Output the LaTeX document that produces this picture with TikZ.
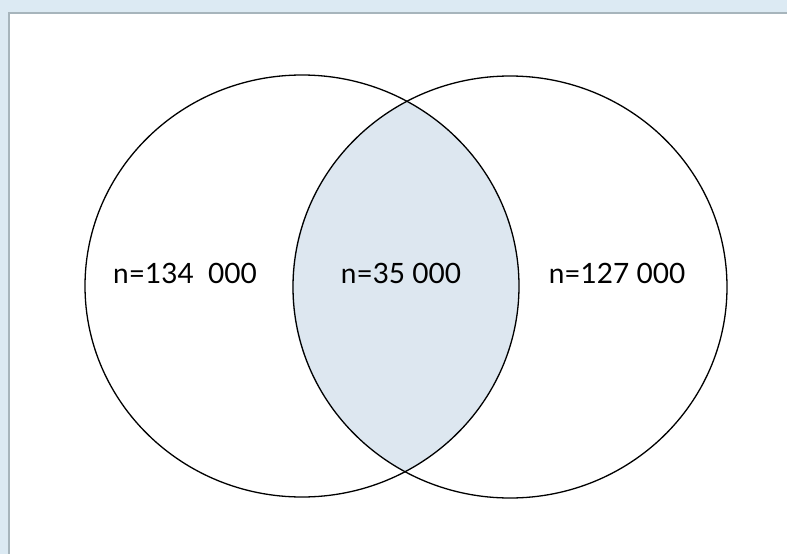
\documentclass[tikz,border=0pt]{standalone}
\usepackage{fontspec}
\setmainfont{Lato}
\usetikzlibrary{shapes.geometric}
\definecolor{framebg}{HTML}{DCEAF3}
\definecolor{frameline}{HTML}{A7B5BC}
\definecolor{lensfill}{HTML}{DDE7F0}

\begin{document}
\begin{tikzpicture}[
    x=1pt, y=-1pt,
    set/.style={ellipse, draw, line width=1.3pt, minimum width=434pt, minimum height=422pt, inner sep=0pt},
    count/.style={font=\fontsize{28}{32}\selectfont, inner sep=0pt}
]
\useasboundingbox (0,0) rectangle (787,554);
\fill[framebg] (0,0) rectangle (787,554);
\fill[white] (9,13) rectangle (787,554);
\draw[frameline, line width=1.5pt] (9,554) -- (9,13) -- (787,13);
% shared part
\begin{scope}
  \clip (302,286) ellipse (217 and 211);
  \fill[lensfill] (510,287) ellipse (218 and 210);
\end{scope}
\node[set] (left) at (302,286) {};
\node[set] (right) at (510,287) {};
\node[count] (nleft) at (185,273) {n=134\ \ 000};
\node[count] (nboth) at (401,273) {n=35 000};
\node[count] (nright) at (617,273) {n=127 000};
\end{tikzpicture}
\end{document}
